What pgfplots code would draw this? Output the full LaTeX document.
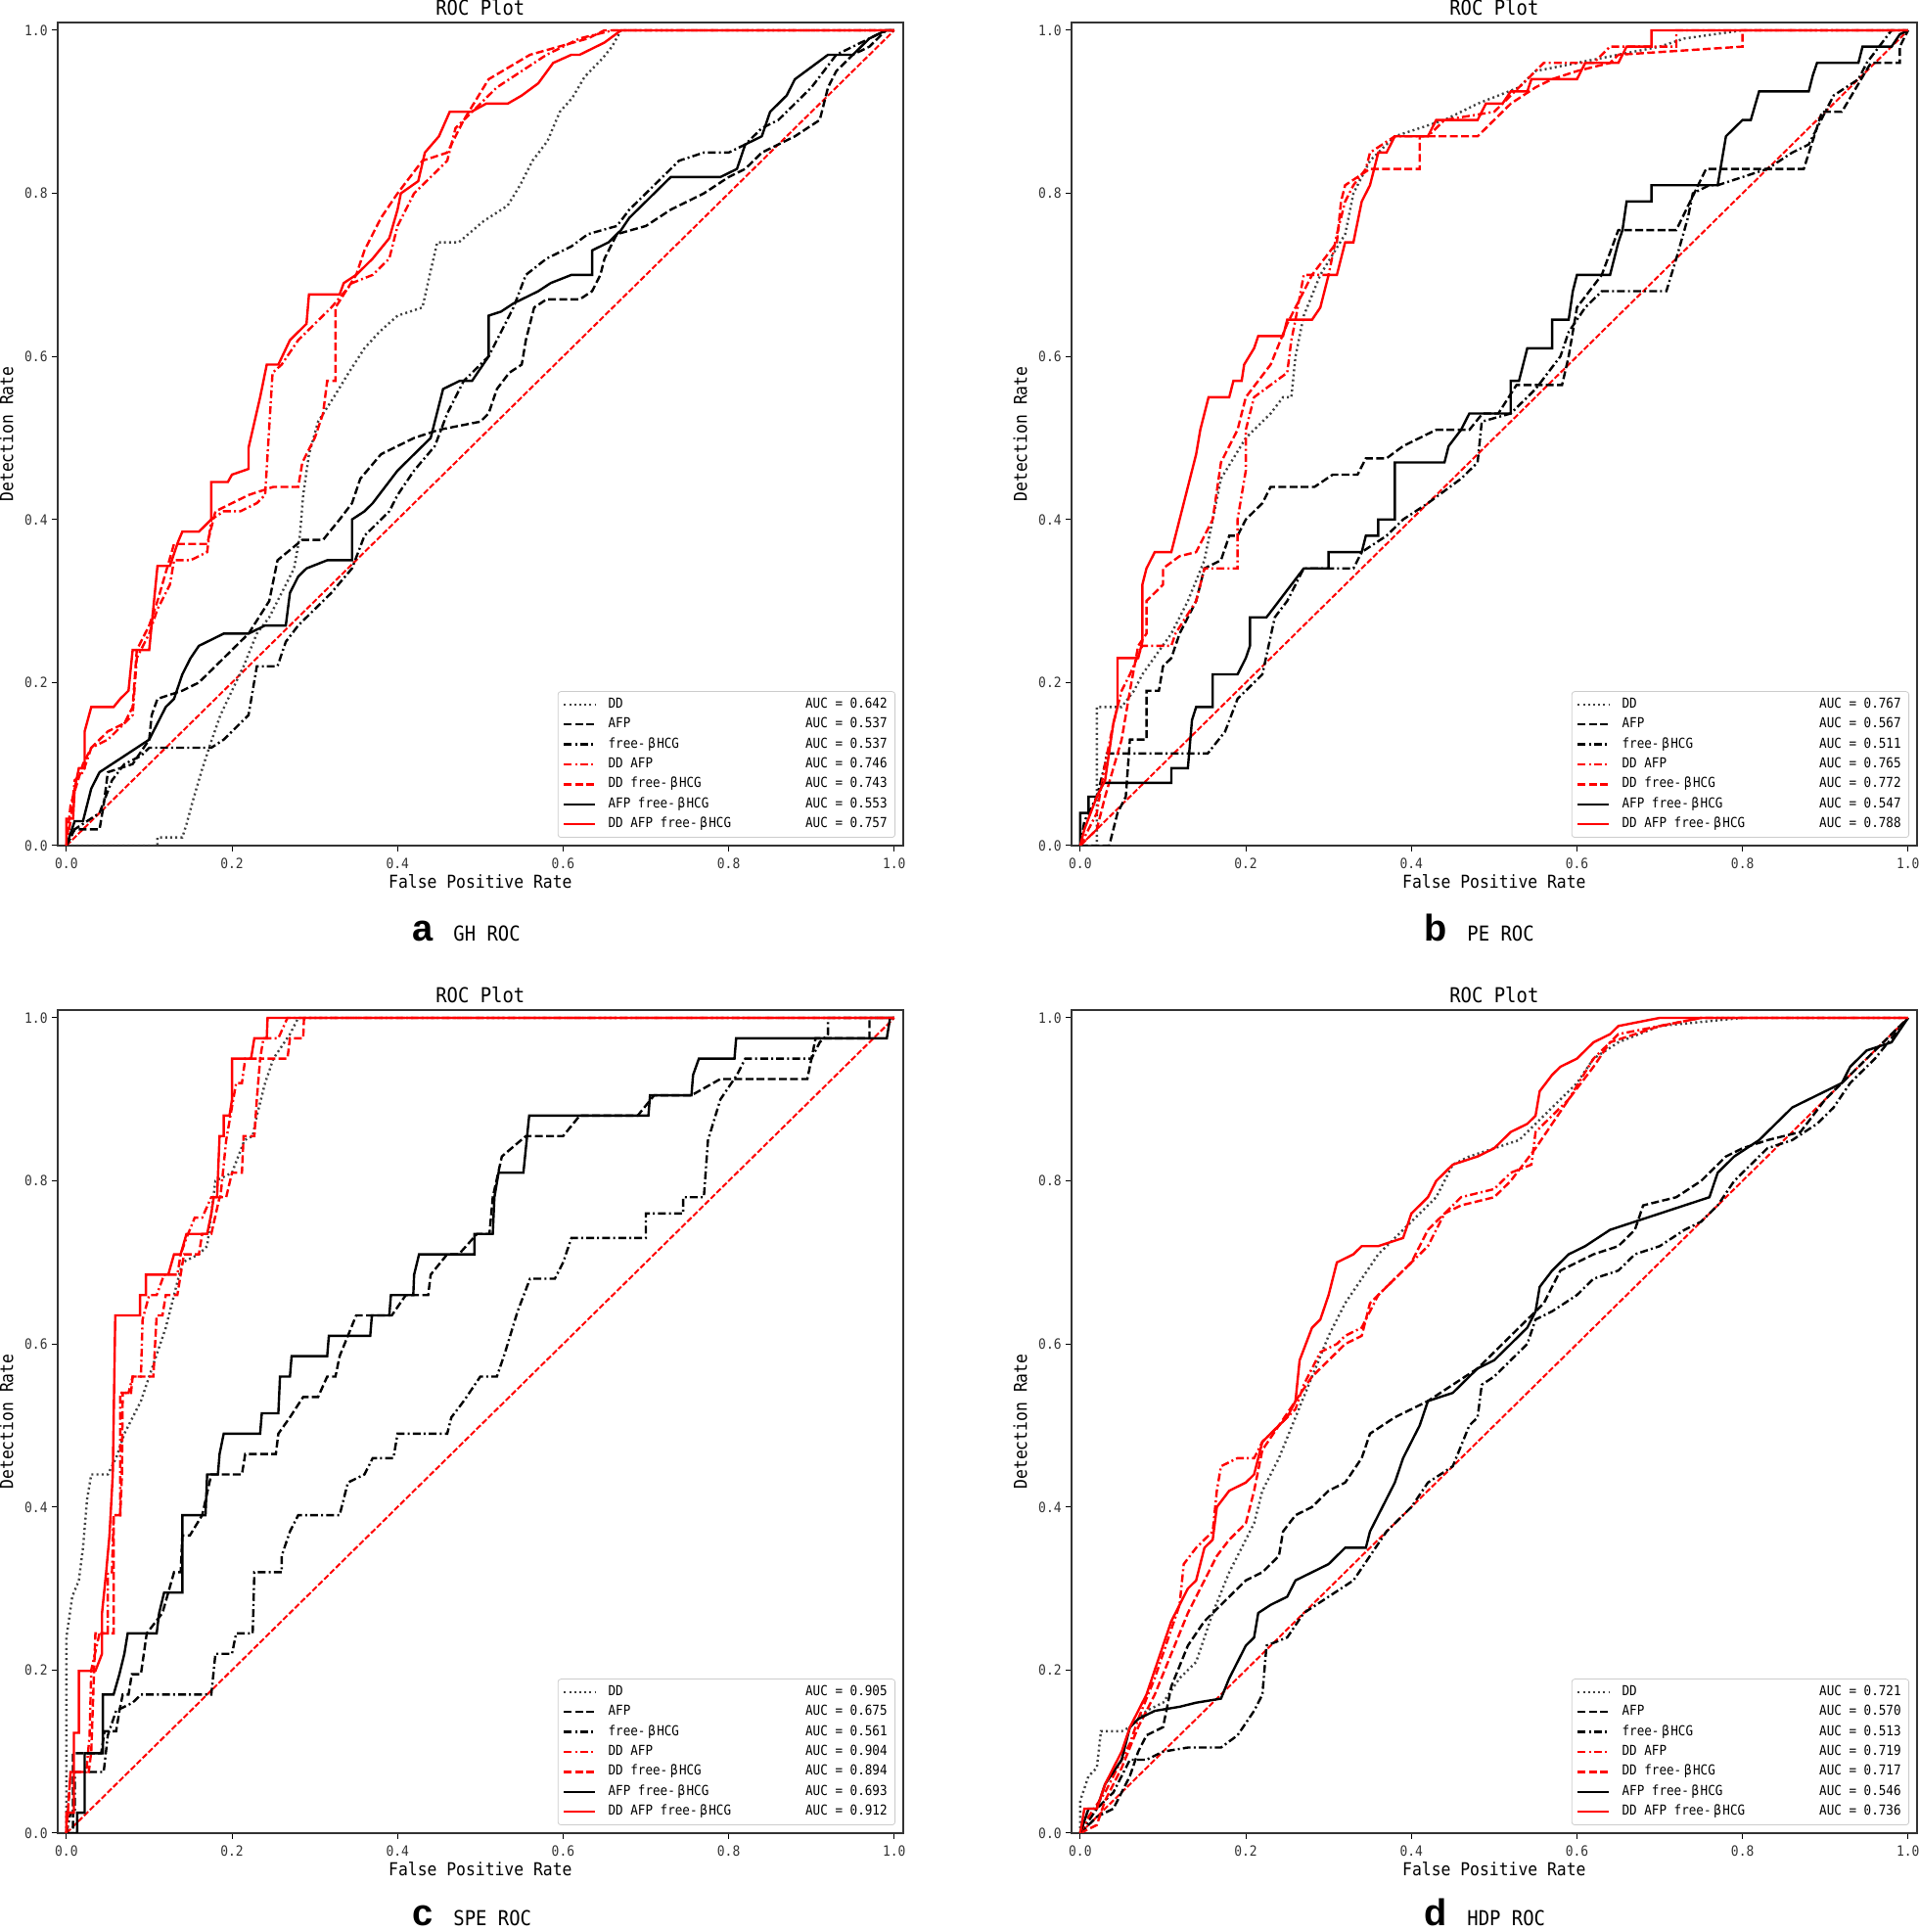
\documentclass[border=0pt]{standalone}
\usepackage{pgfplots}
\pgfplotsset{compat=1.18}
\usepackage{fontspec}
\setmainfont{DejaVu Sans Mono}[FakeStretch=0.9]
\newfontfamily\capfont{Liberation Sans}
\newcommand\ticksize{\fontsize{7.2pt}{8pt}\selectfont}
\newcommand\labsize{\fontsize{9.1pt}{10pt}\selectfont}
\newcommand\titlesize{\fontsize{10.5pt}{12pt}\selectfont}
\newcommand\legsize{\fontsize{7pt}{8pt}\selectfont}
\newcommand\capletter{\capfont\bfseries\fontsize{19pt}{21pt}\selectfont}
\newcommand\fb{free-\hspace{0.2em}β\hspace{0.1em}HCG}
\newcommand\leg[2]{\raisebox{0pt}[5pt][0pt]{\makebox[144pt][l]{#1\hfill AUC = #2\hspace{1.5pt}}}}
\pgfplotsset{
  sDD/.style={black!75, line width=1.2pt, dash pattern=on 1pt off 1.6pt},
  sAFP/.style={black, line width=1.2pt, dash pattern=on 4pt off 1.7pt},
  sFR/.style={black, line width=1.2pt, dash pattern=on 4pt off 1.6pt on 1pt off 1.6pt},
  sDDAFP/.style={red, line width=1.2pt, dash pattern=on 4pt off 1.6pt on 1pt off 1.6pt},
  sDDFR/.style={red, line width=1.2pt, dash pattern=on 4pt off 1.7pt},
  sAFPFR/.style={black, line width=1.2pt, solid},
  sALL/.style={red, line width=1.2pt, solid},
  sDiag/.style={red, line width=1pt, dash pattern=on 3pt off 1.2pt},
  rocax/.style={
    scale only axis, width=431.85pt, height=420.5pt,
    xmin=-0.0105, xmax=1.0105, ymin=0, ymax=1.0096,
    xtick={0,0.2,0.4,0.6,0.8,1}, ytick={0,0.2,0.4,0.6,0.8,1},
    xticklabels={0.0,0.2,0.4,0.6,0.8,1.0}, yticklabels={0.0,0.2,0.4,0.6,0.8,1.0},
    tick align=outside, tick pos=left, major tick length=3pt,
    every tick/.style={black, line width=0.5pt},
    axis line style={black!80, line width=0.9pt},
    xticklabel style={font=\ticksize, text=black!80, anchor=north, inner sep=0pt, yshift=-3pt},
    yticklabel style={font=\ticksize, text=black!80, anchor=east, inner sep=0pt, xshift=-2pt},
    title={ROC Plot},
    title style={font=\titlesize, at={(axis description cs:0.5,1)}, anchor=base, yshift=-2.5pt, inner sep=0pt},
    xlabel={False Positive Rate}, ylabel={Detection Rate},
    xlabel style={font=\labsize, at={(axis description cs:0.5,-0.0523)}, anchor=base, inner sep=0pt},
    ylabel style={font=\labsize, at={(axis description cs:-0.0529,0.5)}, anchor=base, rotate=0, inner sep=0pt},
    no markers,
    legend cell align=left,
    legend image code/.code={\draw[#1] (0pt,0pt) -- (16pt,0pt);},
    legend style={at={(axis description cs:1,0)}, anchor=south east, xshift=-3.85pt, yshift=4pt,
      draw=black!20, rounded corners=1.5pt, fill=white, font=\legsize,
      inner xsep=2.5pt, inner ysep=3.4pt, row sep=3.7pt, column sep=6pt,
      nodes={inner sep=0pt}},
  }
}
\begin{document}
\begin{tikzpicture}
\path[use as bounding box] (0,0) rectangle (980pt,987pt);
% ---------------- panel a ----------------
\begin{axis}[rocax, at={(29.5pt,555pt)}, anchor=south west]
\addplot[sDiag, forget plot] coordinates {(0,0) (1,1)};
\addplot[sDD] coordinates {(0,0) (0.11,0) (0.11,0.01) (0.14,0.01) (0.145,0.026) (0.153,0.056) (0.164,0.094) (0.175,0.128) (0.186,0.16) (0.2,0.19) (0.214,0.22) (0.23,0.26) (0.245,0.28) (0.26,0.31) (0.275,0.34) (0.282,0.38) (0.286,0.43) (0.293,0.48) (0.304,0.52) (0.323,0.55) (0.341,0.58) (0.36,0.61) (0.378,0.63) (0.4,0.65) (0.43,0.66) (0.44,0.705) (0.448,0.74) (0.474,0.74) (0.504,0.766) (0.533,0.785) (0.548,0.81) (0.563,0.84) (0.581,0.864) (0.596,0.9) (0.611,0.917) (0.626,0.943) (0.648,0.966) (0.659,0.98) (0.67,1) (1,1)};
\addlegendentry{\leg{DD}{0.642}}
\addplot[sAFP] coordinates {(0,0) (0.01,0.02) (0.04,0.02) (0.045,0.05) (0.05,0.09) (0.08,0.1) (0.1,0.13) (0.103,0.16) (0.11,0.18) (0.14,0.19) (0.16,0.2) (0.18,0.22) (0.2,0.24) (0.22,0.26) (0.245,0.3) (0.255,0.35) (0.285,0.375) (0.31,0.375) (0.33,0.4) (0.345,0.42) (0.355,0.45) (0.38,0.48) (0.42,0.5) (0.45,0.51) (0.5,0.52) (0.51,0.53) (0.52,0.56) (0.535,0.58) (0.55,0.59) (0.555,0.62) (0.565,0.66) (0.58,0.67) (0.62,0.67) (0.635,0.68) (0.645,0.7) (0.65,0.72) (0.665,0.75) (0.7,0.76) (0.73,0.78) (0.77,0.8) (0.8,0.82) (0.82,0.83) (0.84,0.85) (0.88,0.87) (0.91,0.89) (0.92,0.93) (0.93,0.95) (0.95,0.97) (0.97,0.98) (0.99,1) (1,1)};
\addlegendentry{\leg{AFP}{0.537}}
\addplot[sFR] coordinates {(0,0) (0.01,0.02) (0.04,0.04) (0.055,0.08) (0.07,0.1) (0.09,0.11) (0.1,0.12) (0.175,0.12) (0.19,0.13) (0.2,0.14) (0.22,0.16) (0.23,0.22) (0.255,0.22) (0.265,0.25) (0.28,0.27) (0.29,0.28) (0.3,0.29) (0.32,0.31) (0.345,0.34) (0.36,0.38) (0.39,0.41) (0.4,0.43) (0.42,0.46) (0.445,0.49) (0.46,0.53) (0.47,0.55) (0.48,0.57) (0.51,0.6) (0.52,0.62) (0.54,0.66) (0.555,0.7) (0.58,0.72) (0.61,0.735) (0.63,0.75) (0.665,0.76) (0.68,0.78) (0.7,0.8) (0.74,0.84) (0.77,0.85) (0.8,0.85) (0.82,0.86) (0.84,0.88) (0.86,0.89) (0.87,0.9) (0.9,0.93) (0.93,0.97) (0.95,0.98) (0.99,1) (1,1)};
\addlegendentry{\leg{\fb}{0.537}}
\addplot[sDDAFP] coordinates {(0,0) (0.005,0.03) (0.01,0.08) (0.02,0.09) (0.03,0.12) (0.05,0.13) (0.07,0.15) (0.08,0.16) (0.085,0.23) (0.09,0.24) (0.1,0.26) (0.11,0.29) (0.125,0.32) (0.13,0.35) (0.15,0.35) (0.17,0.36) (0.175,0.4) (0.19,0.41) (0.21,0.41) (0.23,0.42) (0.24,0.43) (0.249,0.58) (0.26,0.59) (0.28,0.62) (0.3,0.64) (0.32,0.66) (0.345,0.69) (0.37,0.7) (0.39,0.72) (0.4,0.76) (0.42,0.8) (0.44,0.82) (0.46,0.84) (0.47,0.88) (0.52,0.93) (0.55,0.95) (0.58,0.97) (0.62,0.99) (0.66,1) (1,1)};
\addlegendentry{\leg{DD AFP}{0.746}}
\addplot[sDDFR] coordinates {(0,0) (0.005,0.05) (0.02,0.1) (0.03,0.12) (0.05,0.14) (0.07,0.15) (0.08,0.17) (0.085,0.24) (0.1,0.27) (0.11,0.3) (0.13,0.37) (0.17,0.37) (0.18,0.41) (0.22,0.43) (0.25,0.44) (0.28,0.44) (0.285,0.47) (0.3,0.5) (0.31,0.53) (0.315,0.57) (0.325,0.57) (0.325,0.66) (0.35,0.7) (0.36,0.73) (0.38,0.77) (0.4,0.8) (0.43,0.84) (0.46,0.85) (0.48,0.89) (0.51,0.94) (0.56,0.97) (0.63,0.99) (0.65,1) (1,1)};
\addlegendentry{\leg{DD \fb}{0.743}}
\addplot[sAFPFR] coordinates {(0,0) (0.01,0.03) (0.02,0.03) (0.03,0.07) (0.04,0.09) (0.055,0.1) (0.07,0.11) (0.085,0.12) (0.1,0.13) (0.11,0.15) (0.12,0.17) (0.13,0.18) (0.14,0.21) (0.15,0.23) (0.16,0.245) (0.17,0.25) (0.19,0.26) (0.22,0.26) (0.24,0.27) (0.265,0.27) (0.27,0.31) (0.28,0.33) (0.29,0.34) (0.315,0.35) (0.345,0.35) (0.345,0.4) (0.36,0.41) (0.37,0.42) (0.4,0.46) (0.41,0.47) (0.43,0.49) (0.44,0.5) (0.445,0.52) (0.455,0.56) (0.475,0.57) (0.49,0.57) (0.51,0.6) (0.51,0.65) (0.525,0.655) (0.54,0.665) (0.57,0.68) (0.585,0.69) (0.61,0.7) (0.635,0.7) (0.635,0.73) (0.655,0.74) (0.67,0.755) (0.68,0.77) (0.69,0.78) (0.71,0.8) (0.73,0.82) (0.79,0.82) (0.81,0.83) (0.82,0.86) (0.84,0.87) (0.85,0.9) (0.87,0.92) (0.88,0.94) (0.92,0.97) (0.95,0.97) (0.97,0.99) (0.99,1) (1,1)};
\addlegendentry{\leg{AFP \fb}{0.553}}
\addplot[sALL] coordinates {(0,0) (0,0.033) (0.008,0.033) (0.01,0.07) (0.015,0.095) (0.022,0.095) (0.022,0.14) (0.03,0.17) (0.057,0.17) (0.065,0.18) (0.075,0.19) (0.08,0.24) (0.1,0.24) (0.11,0.343) (0.125,0.343) (0.135,0.373) (0.14,0.385) (0.16,0.385) (0.175,0.4) (0.175,0.446) (0.195,0.446) (0.2,0.455) (0.22,0.462) (0.22,0.488) (0.234,0.55) (0.242,0.59) (0.256,0.59) (0.27,0.62) (0.29,0.64) (0.293,0.676) (0.33,0.676) (0.335,0.69) (0.35,0.7) (0.37,0.72) (0.39,0.745) (0.4,0.78) (0.404,0.8) (0.425,0.815) (0.433,0.85) (0.45,0.87) (0.463,0.9) (0.489,0.9) (0.507,0.91) (0.533,0.91) (0.55,0.92) (0.57,0.935) (0.588,0.96) (0.61,0.97) (0.62,0.97) (0.65,0.985) (0.67,1) (1,1)};
\addlegendentry{\leg{DD AFP \fb}{0.757}}
\end{axis}
% ---------------- panel b ----------------
\begin{axis}[rocax, at={(547.5pt,555pt)}, anchor=south west]
\addplot[sDiag, forget plot] coordinates {(0,0) (1,1)};
\addplot[sDD] coordinates {(0,0) (0.02,0) (0.02,0.17) (0.05,0.17) (0.065,0.19) (0.075,0.21) (0.11,0.26) (0.13,0.3) (0.15,0.35) (0.16,0.4) (0.17,0.45) (0.2,0.5) (0.23,0.53) (0.245,0.55) (0.255,0.55) (0.26,0.6) (0.27,0.65) (0.29,0.7) (0.32,0.75) (0.33,0.8) (0.35,0.84) (0.38,0.87) (0.44,0.89) (0.48,0.91) (0.53,0.93) (0.55,0.95) (0.6,0.96) (0.65,0.97) (0.7,0.98) (0.73,0.99) (0.8,1) (1,1)};
\addlegendentry{\leg{DD}{0.767}}
\addplot[sAFP] coordinates {(0,0) (0.035,0) (0.04,0.02) (0.045,0.04) (0.055,0.06) (0.06,0.13) (0.08,0.13) (0.08,0.19) (0.095,0.19) (0.1,0.22) (0.11,0.23) (0.12,0.26) (0.14,0.3) (0.15,0.34) (0.17,0.35) (0.18,0.38) (0.19,0.38) (0.2,0.4) (0.22,0.42) (0.23,0.44) (0.283,0.44) (0.305,0.455) (0.335,0.455) (0.345,0.475) (0.37,0.475) (0.39,0.49) (0.43,0.51) (0.47,0.51) (0.486,0.53) (0.505,0.53) (0.527,0.565) (0.582,0.565) (0.59,0.6) (0.6,0.66) (0.63,0.7) (0.65,0.755) (0.72,0.755) (0.756,0.83) (0.874,0.83) (0.896,0.9) (0.92,0.9) (0.955,0.96) (0.99,0.96) (0.99,0.98) (1,1)};
\addlegendentry{\leg{AFP}{0.567}}
\addplot[sFR] coordinates {(0,0) (0.005,0.03) (0.02,0.06) (0.03,0.1) (0.032,0.113) (0.154,0.113) (0.175,0.14) (0.19,0.18) (0.22,0.21) (0.235,0.28) (0.25,0.3) (0.26,0.32) (0.27,0.34) (0.33,0.34) (0.34,0.36) (0.37,0.38) (0.39,0.4) (0.42,0.42) (0.46,0.45) (0.48,0.47) (0.485,0.52) (0.52,0.53) (0.55,0.56) (0.58,0.6) (0.59,0.63) (0.61,0.66) (0.63,0.68) (0.708,0.68) (0.72,0.72) (0.734,0.77) (0.74,0.8) (0.76,0.81) (0.77,0.81) (0.83,0.83) (0.86,0.85) (0.88,0.86) (0.89,0.88) (0.9,0.9) (0.91,0.92) (0.94,0.94) (0.95,0.96) (0.98,1) (1,1)};
\addlegendentry{\leg{\fb}{0.511}}
\addplot[sDDAFP] coordinates {(0,0) (0.01,0.02) (0.02,0.04) (0.03,0.1) (0.04,0.15) (0.05,0.19) (0.06,0.21) (0.075,0.245) (0.11,0.245) (0.115,0.26) (0.14,0.3) (0.15,0.34) (0.19,0.34) (0.19,0.4) (0.2,0.46) (0.2,0.51) (0.21,0.55) (0.25,0.58) (0.255,0.62) (0.26,0.645) (0.27,0.7) (0.3,0.7) (0.31,0.75) (0.32,0.79) (0.33,0.81) (0.345,0.83) (0.35,0.85) (0.38,0.87) (0.42,0.87) (0.44,0.89) (0.5,0.9) (0.52,0.92) (0.54,0.94) (0.56,0.96) (0.62,0.96) (0.63,0.97) (0.64,0.98) (0.72,0.98) (0.72,1) (1,1)};
\addlegendentry{\leg{DD AFP}{0.765}}
\addplot[sDDFR] coordinates {(0,0) (0.02,0.02) (0.03,0.06) (0.05,0.13) (0.06,0.19) (0.07,0.245) (0.08,0.26) (0.08,0.3) (0.1,0.32) (0.1,0.34) (0.12,0.355) (0.14,0.36) (0.15,0.38) (0.16,0.4) (0.17,0.47) (0.18,0.49) (0.19,0.51) (0.2,0.55) (0.23,0.59) (0.25,0.64) (0.28,0.7) (0.31,0.74) (0.315,0.79) (0.32,0.81) (0.35,0.83) (0.41,0.83) (0.41,0.87) (0.48,0.87) (0.5,0.89) (0.52,0.91) (0.55,0.93) (0.57,0.94) (0.6,0.95) (0.64,0.96) (0.65,0.97) (0.8,0.98) (0.8,1) (1,1)};
\addlegendentry{\leg{DD \fb}{0.772}}
\addplot[sAFPFR] coordinates {(0,0) (0,0.04) (0.01,0.04) (0.01,0.06) (0.02,0.06) (0.028,0.077) (0.11,0.077) (0.11,0.095) (0.13,0.095) (0.135,0.154) (0.14,0.17) (0.16,0.17) (0.16,0.21) (0.19,0.21) (0.2,0.23) (0.205,0.245) (0.205,0.28) (0.225,0.28) (0.24,0.3) (0.255,0.32) (0.27,0.34) (0.3,0.34) (0.3,0.36) (0.34,0.36) (0.345,0.38) (0.36,0.38) (0.36,0.4) (0.38,0.4) (0.38,0.47) (0.44,0.47) (0.445,0.49) (0.46,0.51) (0.47,0.53) (0.52,0.53) (0.52,0.57) (0.53,0.57) (0.535,0.59) (0.54,0.61) (0.57,0.61) (0.57,0.645) (0.59,0.645) (0.595,0.68) (0.6,0.7) (0.64,0.7) (0.645,0.72) (0.65,0.74) (0.655,0.755) (0.66,0.79) (0.69,0.79) (0.69,0.81) (0.77,0.81) (0.78,0.87) (0.8,0.89) (0.81,0.89) (0.82,0.925) (0.88,0.925) (0.885,0.945) (0.89,0.96) (0.94,0.96) (0.945,0.98) (0.98,0.98) (0.99,0.995) (1,1)};
\addlegendentry{\leg{AFP \fb}{0.547}}
\addplot[sALL] coordinates {(0,0) (0.005,0.02) (0.02,0.06) (0.03,0.08) (0.04,0.15) (0.045,0.17) (0.045,0.23) (0.07,0.23) (0.075,0.25) (0.075,0.32) (0.08,0.34) (0.09,0.36) (0.11,0.36) (0.115,0.38) (0.12,0.4) (0.13,0.44) (0.14,0.48) (0.145,0.51) (0.155,0.55) (0.18,0.55) (0.185,0.57) (0.195,0.57) (0.198,0.59) (0.21,0.61) (0.215,0.625) (0.245,0.625) (0.25,0.645) (0.28,0.645) (0.29,0.66) (0.3,0.7) (0.31,0.7) (0.32,0.74) (0.33,0.74) (0.34,0.79) (0.35,0.81) (0.36,0.85) (0.37,0.85) (0.38,0.87) (0.42,0.87) (0.43,0.89) (0.48,0.89) (0.49,0.91) (0.51,0.91) (0.52,0.925) (0.54,0.925) (0.545,0.94) (0.6,0.94) (0.61,0.96) (0.65,0.96) (0.66,0.98) (0.69,0.98) (0.69,1) (1,1)};
\addlegendentry{\leg{DD AFP \fb}{0.788}}
\end{axis}
% ---------------- panel c ----------------
\begin{axis}[rocax, at={(29.5pt,50.5pt)}, anchor=south west]
\addplot[sDiag, forget plot] coordinates {(0,0) (1,1)};
\addplot[sDD] coordinates {(0,0) (0,0.24) (0.007,0.29) (0.015,0.31) (0.02,0.35) (0.025,0.41) (0.03,0.44) (0.05,0.44) (0.06,0.46) (0.07,0.49) (0.08,0.51) (0.09,0.53) (0.1,0.56) (0.11,0.59) (0.12,0.62) (0.13,0.66) (0.14,0.7) (0.16,0.71) (0.17,0.72) (0.175,0.76) (0.18,0.8) (0.19,0.805) (0.2,0.81) (0.215,0.85) (0.225,0.855) (0.23,0.88) (0.24,0.92) (0.25,0.95) (0.27,0.98) (0.28,1) (1,1)};
\addlegendentry{\leg{DD}{0.905}}
\addplot[sAFP] coordinates {(0,0) (0.008,0) (0.008,0.098) (0.042,0.098) (0.046,0.125) (0.06,0.125) (0.064,0.15) (0.068,0.17) (0.075,0.17) (0.079,0.195) (0.09,0.195) (0.097,0.245) (0.116,0.27) (0.13,0.32) (0.138,0.32) (0.14,0.365) (0.149,0.365) (0.164,0.39) (0.175,0.44) (0.212,0.44) (0.216,0.465) (0.253,0.465) (0.256,0.49) (0.27,0.51) (0.286,0.535) (0.304,0.535) (0.315,0.56) (0.325,0.56) (0.33,0.585) (0.35,0.635) (0.393,0.635) (0.41,0.66) (0.437,0.66) (0.44,0.685) (0.46,0.71) (0.474,0.71) (0.496,0.735) (0.511,0.735) (0.515,0.78) (0.526,0.83) (0.555,0.855) (0.6,0.855) (0.62,0.88) (0.69,0.88) (0.71,0.905) (0.755,0.905) (0.79,0.925) (0.895,0.925) (0.9,0.95) (0.905,0.975) (0.97,0.975) (0.97,1) (1,1)};
\addlegendentry{\leg{AFP}{0.675}}
\addplot[sFR] coordinates {(0,0) (0.005,0.025) (0.01,0.025) (0.01,0.075) (0.045,0.075) (0.05,0.12) (0.06,0.15) (0.08,0.16) (0.09,0.17) (0.175,0.17) (0.18,0.22) (0.2,0.22) (0.205,0.245) (0.225,0.245) (0.227,0.32) (0.26,0.32) (0.26,0.34) (0.27,0.37) (0.28,0.39) (0.33,0.39) (0.34,0.43) (0.36,0.44) (0.37,0.46) (0.395,0.46) (0.4,0.49) (0.46,0.49) (0.465,0.51) (0.48,0.53) (0.5,0.56) (0.52,0.56) (0.53,0.59) (0.545,0.64) (0.56,0.68) (0.59,0.68) (0.6,0.7) (0.61,0.73) (0.7,0.73) (0.7,0.76) (0.745,0.76) (0.745,0.78) (0.77,0.78) (0.775,0.85) (0.79,0.9) (0.81,0.93) (0.82,0.95) (0.9,0.95) (0.91,0.97) (0.92,0.98) (0.92,1) (1,1)};
\addlegendentry{\leg{\fb}{0.561}}
\addplot[sDDAFP] coordinates {(0,0) (0.005,0.075) (0.024,0.075) (0.028,0.12) (0.03,0.2) (0.04,0.245) (0.05,0.245) (0.05,0.32) (0.055,0.32) (0.057,0.39) (0.065,0.39) (0.065,0.54) (0.075,0.54) (0.08,0.56) (0.09,0.56) (0.092,0.63) (0.1,0.66) (0.109,0.66) (0.118,0.685) (0.134,0.685) (0.138,0.71) (0.145,0.73) (0.155,0.755) (0.164,0.755) (0.175,0.78) (0.186,0.78) (0.193,0.85) (0.205,0.92) (0.212,0.92) (0.216,0.95) (0.234,0.95) (0.238,0.975) (0.256,0.975) (0.267,1) (1,1)};
\addlegendentry{\leg{DD AFP}{0.904}}
\addplot[sDDFR] coordinates {(0,0) (0.005,0.075) (0.027,0.075) (0.03,0.1) (0.035,0.245) (0.057,0.245) (0.057,0.39) (0.065,0.39) (0.067,0.44) (0.068,0.54) (0.078,0.54) (0.08,0.56) (0.105,0.56) (0.109,0.635) (0.116,0.635) (0.12,0.66) (0.134,0.66) (0.138,0.685) (0.142,0.71) (0.16,0.71) (0.164,0.735) (0.175,0.735) (0.185,0.78) (0.193,0.78) (0.2,0.81) (0.212,0.81) (0.214,0.855) (0.227,0.855) (0.23,0.9) (0.234,0.95) (0.267,0.95) (0.27,0.975) (0.286,0.975) (0.287,1) (1,1)};
\addlegendentry{\leg{DD \fb}{0.894}}
\addplot[sAFPFR] coordinates {(0,0) (0.013,0) (0.013,0.025) (0.022,0.025) (0.022,0.098) (0.044,0.098) (0.044,0.17) (0.057,0.17) (0.064,0.195) (0.07,0.22) (0.074,0.245) (0.109,0.245) (0.112,0.27) (0.118,0.295) (0.14,0.295) (0.14,0.39) (0.168,0.39) (0.17,0.44) (0.183,0.44) (0.185,0.465) (0.19,0.49) (0.234,0.49) (0.236,0.515) (0.256,0.515) (0.258,0.56) (0.27,0.56) (0.272,0.585) (0.315,0.585) (0.317,0.61) (0.367,0.61) (0.369,0.635) (0.39,0.635) (0.392,0.66) (0.419,0.66) (0.42,0.685) (0.426,0.71) (0.493,0.71) (0.493,0.735) (0.515,0.735) (0.517,0.78) (0.522,0.81) (0.552,0.81) (0.559,0.88) (0.703,0.88) (0.705,0.905) (0.755,0.905) (0.757,0.93) (0.764,0.95) (0.807,0.95) (0.809,0.975) (0.991,0.975) (0.995,1) (1,1)};
\addlegendentry{\leg{AFP \fb}{0.693}}
\addplot[sALL] coordinates {(0,0) (0,0.025) (0.009,0.025) (0.009,0.123) (0.015,0.123) (0.015,0.199) (0.035,0.199) (0.043,0.22) (0.043,0.27) (0.048,0.32) (0.052,0.365) (0.056,0.44) (0.059,0.635) (0.089,0.635) (0.089,0.66) (0.096,0.66) (0.096,0.685) (0.123,0.685) (0.13,0.71) (0.138,0.71) (0.145,0.735) (0.17,0.735) (0.175,0.76) (0.178,0.78) (0.182,0.78) (0.185,0.855) (0.19,0.855) (0.19,0.88) (0.197,0.88) (0.2,0.9) (0.2,0.95) (0.223,0.95) (0.227,0.975) (0.242,0.975) (0.243,1) (1,1)};
\addlegendentry{\leg{DD AFP \fb}{0.912}}
\end{axis}
% ---------------- panel d ----------------
\begin{axis}[rocax, at={(547.5pt,50.5pt)}, anchor=south west]
\addplot[sDiag, forget plot] coordinates {(0,0) (1,1)};
\addplot[sDD] coordinates {(0,0) (0,0.04) (0.01,0.07) (0.02,0.08) (0.025,0.125) (0.05,0.125) (0.06,0.13) (0.08,0.15) (0.1,0.16) (0.12,0.19) (0.14,0.21) (0.16,0.27) (0.18,0.32) (0.2,0.36) (0.21,0.38) (0.22,0.42) (0.24,0.46) (0.26,0.51) (0.28,0.56) (0.3,0.61) (0.32,0.65) (0.34,0.68) (0.36,0.71) (0.38,0.73) (0.4,0.75) (0.43,0.78) (0.45,0.82) (0.47,0.83) (0.5,0.84) (0.53,0.85) (0.56,0.88) (0.58,0.9) (0.6,0.92) (0.62,0.95) (0.65,0.97) (0.7,0.99) (0.8,1) (1,1)};
\addlegendentry{\leg{DD}{0.721}}
\addplot[sAFP] coordinates {(0,0) (0.02,0.02) (0.04,0.03) (0.06,0.07) (0.07,0.1) (0.08,0.12) (0.1,0.13) (0.11,0.18) (0.13,0.23) (0.15,0.26) (0.17,0.28) (0.19,0.3) (0.2,0.31) (0.22,0.32) (0.24,0.34) (0.245,0.37) (0.26,0.39) (0.28,0.4) (0.3,0.42) (0.32,0.43) (0.34,0.46) (0.35,0.49) (0.38,0.51) (0.42,0.53) (0.45,0.55) (0.48,0.57) (0.5,0.59) (0.52,0.61) (0.54,0.63) (0.56,0.65) (0.57,0.67) (0.58,0.69) (0.6,0.7) (0.62,0.71) (0.65,0.72) (0.67,0.74) (0.68,0.77) (0.72,0.78) (0.75,0.8) (0.78,0.83) (0.8,0.84) (0.83,0.85) (0.87,0.86) (0.9,0.9) (0.93,0.93) (0.96,0.96) (1,1)};
\addlegendentry{\leg{AFP}{0.570}}
\addplot[sFR] coordinates {(0,0) (0.02,0.03) (0.04,0.05) (0.06,0.09) (0.08,0.09) (0.1,0.1) (0.13,0.105) (0.17,0.105) (0.19,0.12) (0.21,0.15) (0.22,0.17) (0.225,0.23) (0.25,0.24) (0.27,0.27) (0.3,0.29) (0.33,0.31) (0.35,0.34) (0.37,0.37) (0.4,0.4) (0.42,0.43) (0.45,0.45) (0.47,0.5) (0.48,0.51) (0.485,0.55) (0.5,0.56) (0.52,0.58) (0.54,0.6) (0.55,0.63) (0.57,0.64) (0.6,0.66) (0.62,0.68) (0.65,0.69) (0.67,0.71) (0.7,0.72) (0.73,0.74) (0.75,0.75) (0.77,0.77) (0.79,0.8) (0.81,0.82) (0.83,0.84) (0.86,0.85) (0.89,0.87) (0.91,0.89) (0.93,0.92) (0.96,0.95) (1,1)};
\addlegendentry{\leg{\fb}{0.513}}
\addplot[sDDAFP] coordinates {(0,0) (0.01,0.02) (0.03,0.05) (0.05,0.09) (0.06,0.11) (0.07,0.14) (0.09,0.19) (0.1,0.22) (0.11,0.25) (0.12,0.28) (0.125,0.33) (0.14,0.35) (0.16,0.37) (0.165,0.42) (0.17,0.45) (0.19,0.46) (0.21,0.46) (0.22,0.48) (0.24,0.5) (0.26,0.52) (0.27,0.55) (0.29,0.59) (0.31,0.6) (0.32,0.61) (0.34,0.62) (0.35,0.64) (0.36,0.66) (0.38,0.68) (0.4,0.7) (0.42,0.72) (0.43,0.74) (0.44,0.76) (0.46,0.78) (0.5,0.79) (0.52,0.81) (0.545,0.82) (0.55,0.86) (0.57,0.88) (0.59,0.9) (0.62,0.95) (0.65,0.98) (0.7,0.99) (0.75,1) (1,1)};
\addlegendentry{\leg{DD AFP}{0.719}}
\addplot[sDDFR] coordinates {(0,0) (0.02,0.01) (0.03,0.04) (0.05,0.08) (0.07,0.13) (0.09,0.17) (0.11,0.22) (0.13,0.27) (0.15,0.31) (0.165,0.34) (0.18,0.36) (0.2,0.38) (0.21,0.42) (0.22,0.47) (0.24,0.5) (0.26,0.53) (0.28,0.56) (0.3,0.58) (0.32,0.6) (0.34,0.61) (0.35,0.65) (0.37,0.67) (0.4,0.7) (0.42,0.74) (0.44,0.76) (0.46,0.77) (0.5,0.78) (0.52,0.8) (0.55,0.84) (0.57,0.87) (0.59,0.9) (0.62,0.94) (0.64,0.97) (0.7,0.99) (0.75,1) (1,1)};
\addlegendentry{\leg{DD \fb}{0.717}}
\addplot[sAFPFR] coordinates {(0,0) (0.01,0.03) (0.02,0.03) (0.03,0.06) (0.05,0.09) (0.06,0.13) (0.07,0.14) (0.09,0.15) (0.12,0.155) (0.14,0.16) (0.17,0.165) (0.18,0.19) (0.19,0.21) (0.2,0.23) (0.21,0.24) (0.215,0.27) (0.23,0.28) (0.25,0.29) (0.26,0.31) (0.28,0.32) (0.3,0.33) (0.32,0.35) (0.345,0.35) (0.35,0.37) (0.36,0.39) (0.37,0.41) (0.38,0.43) (0.39,0.46) (0.4,0.48) (0.41,0.5) (0.42,0.53) (0.45,0.54) (0.48,0.57) (0.5,0.58) (0.52,0.6) (0.54,0.62) (0.55,0.64) (0.555,0.67) (0.57,0.69) (0.59,0.71) (0.61,0.72) (0.64,0.74) (0.67,0.75) (0.7,0.76) (0.73,0.77) (0.76,0.78) (0.77,0.81) (0.79,0.83) (0.82,0.85) (0.84,0.87) (0.86,0.89) (0.88,0.9) (0.9,0.91) (0.92,0.92) (0.93,0.94) (0.95,0.96) (0.98,0.97) (1,1)};
\addlegendentry{\leg{AFP \fb}{0.546}}
\addplot[sALL] coordinates {(0,0) (0.005,0.03) (0.02,0.03) (0.03,0.06) (0.05,0.1) (0.06,0.13) (0.07,0.15) (0.08,0.17) (0.09,0.2) (0.1,0.23) (0.11,0.26) (0.12,0.28) (0.13,0.3) (0.14,0.31) (0.15,0.35) (0.16,0.36) (0.165,0.4) (0.18,0.42) (0.2,0.43) (0.21,0.44) (0.22,0.48) (0.23,0.49) (0.25,0.51) (0.26,0.53) (0.265,0.58) (0.28,0.62) (0.29,0.63) (0.3,0.66) (0.31,0.7) (0.33,0.71) (0.34,0.72) (0.36,0.72) (0.39,0.73) (0.4,0.76) (0.42,0.78) (0.43,0.8) (0.45,0.82) (0.48,0.83) (0.5,0.84) (0.52,0.86) (0.54,0.87) (0.55,0.88) (0.555,0.91) (0.57,0.93) (0.58,0.94) (0.6,0.95) (0.62,0.97) (0.64,0.98) (0.65,0.99) (0.7,1) (1,1)};
\addlegendentry{\leg{DD AFP \fb}{0.736}}
\end{axis}
% ---------------- captions ----------------
\node[anchor=base east, inner sep=0pt, font=\capletter] at (221.5pt,506pt) {a};
\node[anchor=base west, inner sep=0pt, font=\titlesize] at (231.5pt,506pt) {GH ROC};
\node[anchor=base east, inner sep=0pt, font=\capletter] at (739.5pt,506pt) {b};
\node[anchor=base west, inner sep=0pt, font=\titlesize] at (749.5pt,506pt) {PE ROC};
\node[anchor=base east, inner sep=0pt, font=\capletter] at (221.5pt,3pt) {c};
\node[anchor=base west, inner sep=0pt, font=\titlesize] at (231.5pt,3pt) {SPE ROC};
\node[anchor=base east, inner sep=0pt, font=\capletter] at (739.5pt,3pt) {d};
\node[anchor=base west, inner sep=0pt, font=\titlesize] at (749.5pt,3pt) {HDP ROC};
\end{tikzpicture}
\end{document}
